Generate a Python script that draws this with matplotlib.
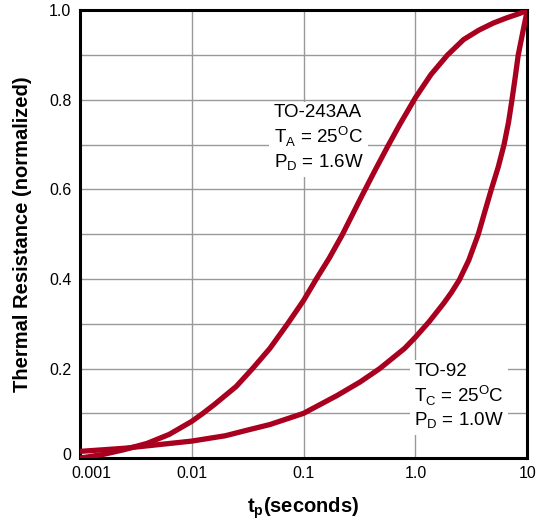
import numpy as np
import matplotlib.pyplot as plt
from matplotlib.transforms import ScaledTranslation

plt.rcParams['font.family'] = ['Liberation Sans', 'DejaVu Sans']
plt.rcParams['mathtext.fontset'] = 'custom'
plt.rcParams['mathtext.rm'] = 'Liberation Sans'
plt.rcParams['mathtext.bf'] = 'Liberation Sans:bold'

# TO-243AA curve (pulse time in s, normalized thermal resistance)
t_243 = [0.001, 0.0016, 0.0025, 0.004, 0.0063, 0.01, 0.0126, 0.016, 0.025, 0.035,
         0.05, 0.072, 0.1, 0.13, 0.17, 0.22, 0.275, 0.339, 0.436, 0.562, 0.724, 1.0,
         1.38, 1.93, 2.7, 3.7, 5.0, 6.5, 8.5, 10.0]
r_243 = [0.0, 0.008, 0.019, 0.033, 0.053, 0.082, 0.1, 0.12, 0.16, 0.2,
         0.245, 0.3, 0.352, 0.4, 0.447, 0.497, 0.545, 0.59, 0.643, 0.695, 0.745, 0.805,
         0.857, 0.9, 0.935, 0.956, 0.972, 0.983, 0.993, 1.0]

# TO-92 curve
t_92 = [0.001, 0.0025, 0.005, 0.01, 0.02, 0.032, 0.05, 0.1, 0.2, 0.32, 0.48, 0.8,
        1.0, 1.33, 1.78, 2.1, 2.47, 3.0, 3.65, 4.17, 4.77, 5.5, 6.2, 6.8, 7.3, 7.8,
        8.3, 9.1, 10.0]
r_92 = [0.015, 0.022, 0.03, 0.038, 0.05, 0.063, 0.075, 0.1, 0.14, 0.17, 0.2, 0.245,
        0.27, 0.305, 0.345, 0.37, 0.398, 0.442, 0.5, 0.55, 0.6, 0.65, 0.7, 0.75, 0.8,
        0.85, 0.9, 0.95, 1.0]

x_ticks = [0.001, 0.01, 0.1, 1.0, 10]
x_labels = ['0.001', '0.01', '0.1', '1.0', '10']
y_ticks = [0, 0.2, 0.4, 0.6, 0.8, 1.0]
y_labels = ['0', '0.2', '0.4', '0.6', '0.8', '1.0']

red = '#A8001E'

fig = plt.figure(figsize=(5.43, 5.20), dpi=100)
ax = fig.add_axes([0.147, 0.119, 0.824, 0.861])

ax.plot(t_243, r_243, color=red, lw=3.8, solid_joinstyle='round', zorder=3)
ax.plot(t_92, r_92, color=red, lw=3.8, solid_joinstyle='round', zorder=3)

ax.set_xscale('log')
ax.set_xlim(0.001, 10)
ax.set_ylim(0, 1.0)
ax.set_xticks(x_ticks)
ax.set_xticklabels(x_labels)
ax.set_xticks([], minor=True)
ax.set_yticks(np.arange(0, 1.01, 0.1), minor=True)
ax.set_yticks(y_ticks)
ax.set_yticklabels(y_labels)
ax.tick_params(which='both', length=0, labelsize=11.5, pad=6)
ax.grid(True, which='both', color='#999999', lw=1.0)
ax.set_axisbelow(True)
for s in ax.spines.values():
    s.set_linewidth(2.2)

# nudge the corner labels apart like the original
xl0 = ax.get_xticklabels()[0]
xl0.set_transform(xl0.get_transform() + ScaledTranslation(0.12, 0, fig.dpi_scale_trans))
yl0 = ax.get_yticklabels()[0]
yl0.set_transform(yl0.get_transform() + ScaledTranslation(0, 0.045, fig.dpi_scale_trans))

ax.set_xlabel(r'$\mathbf{t_p}$(seconds)', fontsize=14.5, fontweight='bold', labelpad=10)
ax.set_ylabel('Thermal Resistance (normalized)', fontsize=14.5, fontweight='bold', labelpad=12)

box = dict(facecolor='white', edgecolor='none', pad=3)
ax.text(0.054, 0.79, 'TO-243AA\nT$_\\mathregular{A}$ = 25$^\\mathregular{O}$C\nP$_\\mathregular{D}$ = 1.6W',
        fontsize=13.5, va='top', ha='left', linespacing=1.2, bbox=box, zorder=2)
ax.text(0.98, 0.213, 'TO-92\nT$_\\mathregular{C}$ = 25$^\\mathregular{O}$C\nP$_\\mathregular{D}$ = 1.0W',
        fontsize=13.5, va='top', ha='left', linespacing=1.2, bbox=box, zorder=2)

fig.savefig('out.png', dpi=100)
